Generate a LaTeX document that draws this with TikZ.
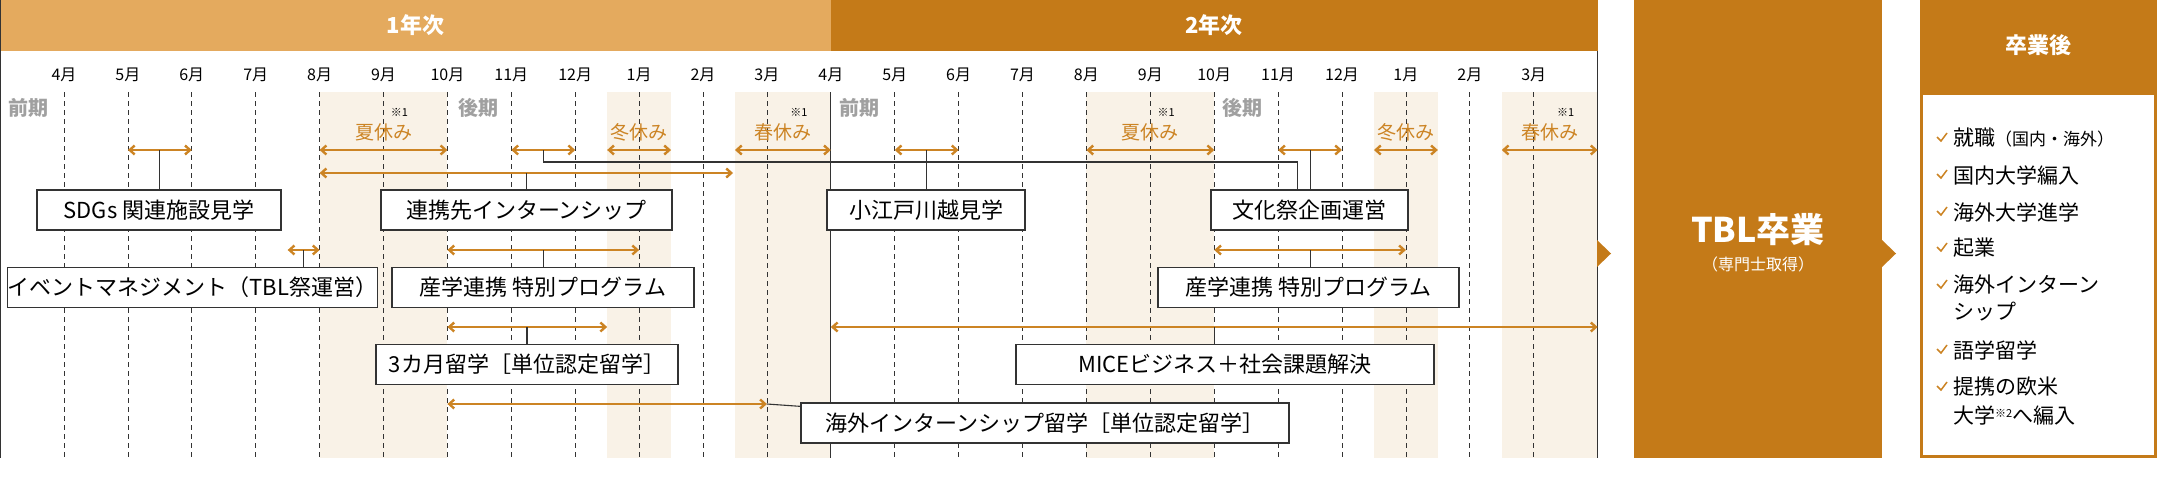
\documentclass[tikz,border=0pt]{standalone}
\usepackage{fontspec}
\setmainfont{Noto Sans CJK JP}
\usetikzlibrary{arrows.meta}
\definecolor{yearone}{HTML}{E4AA5E}
\definecolor{yeartwo}{HTML}{C47A18}
\definecolor{spanor}{HTML}{CC8424}
\definecolor{holfill}{HTML}{F9F2E7}
\definecolor{termgray}{HTML}{A0A0A0}
\definecolor{boxgray}{HTML}{333333}
\newcommand{\mo}[1]{64+63.9*(#1)}
\tikzset{
  box/.style={draw=boxgray, line width=1.3pt, fill=white, minimum height=40pt, inner sep=0pt, font=\fontsize{22}{24}\selectfont},
  span/.style={spanor, line width=2.4pt, {Straight Barb[length=5pt,width=9pt]}-{Straight Barb[length=5pt,width=9pt]}},
  link/.style={boxgray, line width=1.1pt},
  mon/.style={boxgray, line width=0.8pt, dash pattern=on 5pt off 4pt},
  hol/.style={spanor, font=\fontsize{19}{20}\selectfont},
}
\begin{document}
\begin{tikzpicture}[x=1pt,y=-1pt]
    \useasboundingbox (0,0) rectangle (2160,483);
    % holiday bands
    \foreach \a/\b in {4/6, 8.5/9.5, 10.5/12, 16/18, 20.5/21.5, 22.5/24}
        \fill[holfill] ({\mo{\a}},92) rectangle ({\mo{\b}},458);
    % year headers
    \fill[yearone] (0,0) rectangle ({\mo{12}},51) node[midway, white, font=\bfseries\fontsize{22}{24}\selectfont] {1年次};
    \fill[yeartwo] ({\mo{12}},0) rectangle ({\mo{24}},51) node[midway, white, font=\bfseries\fontsize{22}{24}\selectfont] {2年次};
    % month grid
    \foreach \m [count=\i from 0] in {4,5,6,7,8,9,10,11,12,1,2,3,4,5,6,7,8,9,10,11,12,1,2,3} {
        \node[font=\fontsize{16}{18}\selectfont] at ({\mo{\i}},75) {\m 月};
        \ifnum\i=12\else \draw[mon] ({\mo{\i}},92) -- ({\mo{\i}},458); \fi
    }
    \draw[boxgray, line width=1pt] ({\mo{12}},92) -- ({\mo{12}},458);
    \draw[boxgray, line width=1pt] ({\mo{24}},51) -- ({\mo{24}},458);
    \draw[boxgray, line width=1pt] (0,0) -- (0,458);
    % terms
    \foreach \x/\t in {29/前期, 478/後期, 859/前期, 1242/後期}
        \node[termgray, font=\bfseries\fontsize{20}{22}\selectfont] at (\x,108) {\t};
    % holidays
    \foreach \c/\t in {5/夏休み, 9/冬休み, 11.25/春休み, 17/夏休み, 21/冬休み, 23.25/春休み}
        \node[hol] at ({\mo{\c}},132) {\t};
    \foreach \c in {5.25, 11.5, 17.25, 23.5}
        \node[font=\fontsize{11}{12}\selectfont] at ({\mo{\c}},112) {※1};
    % spans
    \foreach \a/\b in {1/2, 4/6, 7/8, 8.5/9.5, 10.5/12, 13/14, 16/18, 19/20, 20.5/21.5, 22.5/24}
        \draw[span] ({\mo{\a}},150) -- ({\mo{\b}},150);
    \draw[span] ({\mo{4}},173) -- ({\mo{10.47}},173);
    \draw[span] ({\mo{3.5}},250) -- ({\mo{4}},250);
    \draw[span] ({\mo{6}},250) -- ({\mo{9}},250);
    \draw[span] ({\mo{18}},250) -- ({\mo{21}},250);
    \draw[span] ({\mo{6}},327) -- ({\mo{8.5}},327);
    \draw[span] ({\mo{12}},327) -- ({\mo{24}},327);
    \draw[span] ({\mo{6}},404) -- ({\mo{11}},404);
    % span points
    \coordinate (sdgsP) at ({\mo{1.5}},150);
    \coordinate (autP) at ({\mo{7.5}},150);
    \coordinate (koedoP) at ({\mo{13.5}},150);
    \coordinate (bunkaP) at ({\mo{19.5}},150);
    \coordinate (renkeiP) at (526.5,173);
    \coordinate (eventP) at ({\mo{3.75}},250);
    \coordinate (sangakuAP) at ({\mo{7.5}},250);
    \coordinate (sangakuBP) at ({\mo{19.5}},250);
    \coordinate (tankiP) at (527,327);
    \coordinate (miceP) at ({\mo{18}},327);
    \coordinate (kaigaiP) at ({\mo{11}},404);
    % boxes
    \node[box, minimum width=244pt] (sdgs) at (159,210) {SDGs 関連施設見学};
    \node[box, minimum width=291pt] (renkei) at (526.5,210) {連携先インターンシップ};
    \node[box, minimum width=198pt] (koedo) at (926,210) {小江戸川越見学};
    \node[box, minimum width=197pt] (bunka) at (1309.5,210) {文化祭企画運営};
    \node[box, minimum width=361pt] (event) at (192.5,287.5) {イベントマネジメント（TBL祭運営）};
    \node[box, minimum width=302pt] (sangakuA) at (543,287.5) {産学連携 特別プログラム};
    \node[box, minimum width=301pt] (sangakuB) at (1308.5,287.5) {産学連携 特別プログラム};
    \node[box, minimum width=302pt] (tanki) at (527,364.5) {3カ月留学［単位認定留学］};
    \node[box, minimum width=418pt] (mice) at (1225,364.5) {MICEビジネス＋社会課題解決};
    \node[box, minimum width=488pt] (kaigai) at (1045,423) {海外インターンシップ留学［単位認定留学］};
    % links
    \draw[link] (sdgsP) -- (sdgsP |- sdgs.north);
    \draw[link] (koedoP) -- (koedoP |- koedo.north);
    \draw[link] (bunkaP) -- (bunkaP |- bunka.north);
    \draw[link] (renkeiP) -- (renkeiP |- renkei.north);
    \draw[link] (autP) -- ++(0,12) -| ([xshift=-12pt]bunka.north);
    \draw[link] (eventP) -- (eventP |- event.north);
    \draw[link] (sangakuAP) -- (sangakuAP |- sangakuA.north);
    \draw[link] (sangakuBP) -- (sangakuBP |- sangakuB.north);
    \draw[link] (tankiP) -- (tankiP |- tanki.north);
    \draw[link] (miceP) -- (miceP |- mice.north);
    \draw[link] (kaigaiP) -- ([yshift=-4pt]kaigai.north west);
    % graduation
    \fill[yeartwo] (1597,240) -- (1611,253.5) -- (1597,267) -- cycle;
    \fill[yeartwo] (1634,0) rectangle (1882,458);
    \node[white, font=\bfseries\fontsize{34}{36}\selectfont] (tbl) at (1758,230) {TBL卒業};
    \node[white, font=\fontsize{16}{18}\selectfont] at (1758,264) {（専門士取得）};
    \fill[yeartwo] (1882,240) -- (1896,253.5) -- (1882,267) -- cycle;
    \fill[yeartwo] (1920,0) rectangle (2157,458);
    \fill[white] (1923,95) rectangle (2154,455);
    \node[white, font=\bfseries\fontsize{22}{24}\selectfont] at (2038,45) {卒業後};
    \foreach \y/\t/\c in {138/就職{\fontsize{17}{18}\selectfont（国内・海外）}/1, 175/国内大学編入/1, 212/海外大学進学/1, 248/起業/1, 285/海外インターン/1, 312/シップ/0, 350/語学留学/1, 387/提携の欧米/1, 415/大学{\fontsize{11}{12}\selectfont\raisebox{6pt}{※2}}へ編入/0} {
        \node[anchor=west, inner sep=0pt, font=\fontsize{21}{22}\selectfont] at (1953,\y) {\t};
        \ifnum\c=1 \draw[spanor, line width=1.5pt] (1937,{\y-1}) -- (1941,{\y+3}) -- (1947,{\y-5}); \fi
    }
\end{tikzpicture}
\end{document}
